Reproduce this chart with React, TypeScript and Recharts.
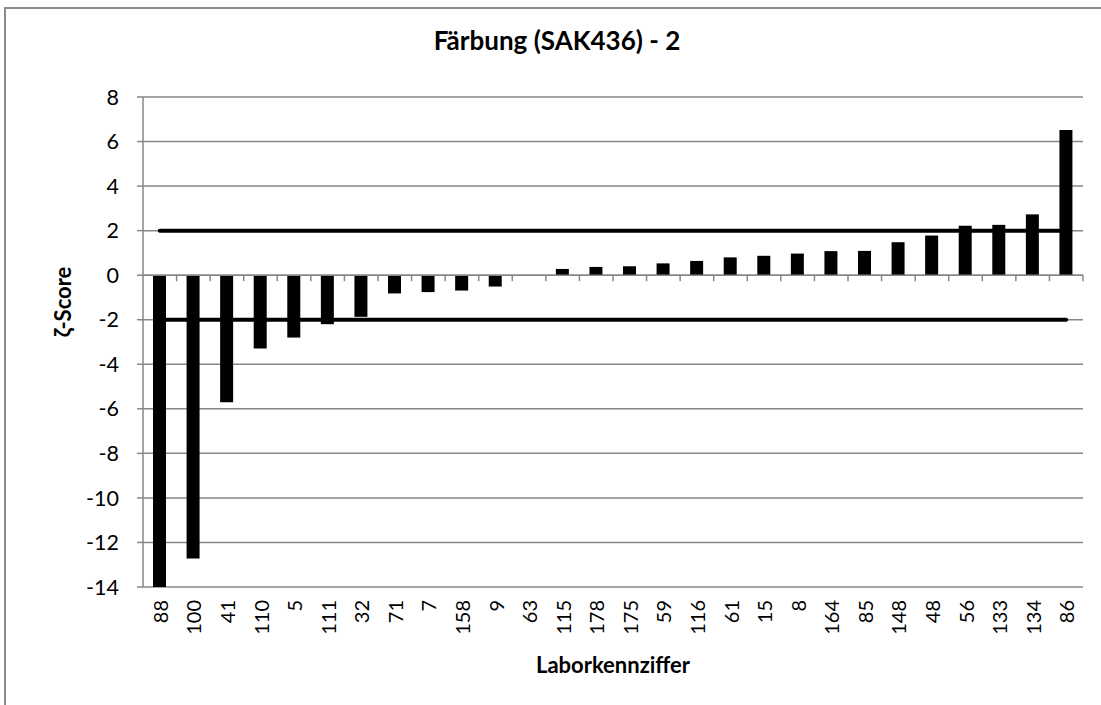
import React from "react";
import {
  ComposedChart,
  Bar,
  Line,
  XAxis,
  YAxis,
  CartesianGrid,
  ReferenceLine,
  Label,
} from "recharts";

const labs = ["88", "100", "41", "110", "5", "111", "32", "71", "7", "158", "9", "63", "115", "178", "175", "59", "116", "61", "15", "8", "164", "85", "148", "48", "56", "133", "134", "86"];
const zeta = [-14, -12.72, -5.7, -3.29, -2.8, -2.2, -1.87, -0.82, -0.76, -0.69, -0.51, null, 0.28, 0.37, 0.4, 0.53, 0.64, 0.8, 0.87, 0.97, 1.08, 1.09, 1.48, 1.78, 2.22, 2.26, 2.73, 6.52];
const upperLimit = 2;
const lowerLimit = -2;
const yTicks = [-14, -12, -10, -8, -6, -4, -2, 0, 2, 4, 6, 8];

const W = 1101;
const H = 705;
const X_AXIS_H = 118;
const Y_AXIS_W = 143;
const M = { top: 97, right: 18, bottom: 0, left: 0 };
const PLOT_W = W - Y_AXIS_W - M.right;
const PLOT_H = H - M.top - X_AXIS_H;
const BAND = PLOT_W / labs.length;
const Y_MIN = -14;
const Y_MAX = 8;
const ZERO_Y = M.top + (Y_MAX / (Y_MAX - Y_MIN)) * PLOT_H;

const FONT = "Lato, 'Open Sans', sans-serif";
const GRID = "#878787";

const data = labs.map((lab, i) => ({
  lab,
  zeta: zeta[i],
  upper: upperLimit,
  lower: lowerLimit,
}));

// labels rotated 90°, plus Excel-style tick marks between categories on the zero line
const XTick = (props: any) => {
  const { x, payload } = props;
  return (
    <g>
      <line x1={x + BAND / 2} x2={x + BAND / 2} y1={ZERO_Y} y2={ZERO_Y + 6} stroke={GRID} strokeWidth={1.5} />
      <text
        transform={`translate(${x},${M.top + PLOT_H + 13}) rotate(-90)`}
        textAnchor="end"
        dominantBaseline="central"
        fontFamily={FONT}
        fontSize={20}
        fill="#000"
      >
        {payload.value}
      </text>
    </g>
  );
};

const App: React.FC = () => {
  return (
    <div style={{ position: "absolute", left: 0, top: 0, width: W, height: H, background: "#fff", overflow: "hidden" }}>
      <div
        style={{
          position: "absolute",
          left: 4,
          top: 7,
          width: W,
          height: H,
          borderLeft: "2px solid #8c8c8c",
          borderTop: "2px solid #8c8c8c",
        }}
      />
      <div
        style={{
          position: "absolute",
          left: 0,
          width: 1114,
          top: 24,
          textAlign: "center",
          fontFamily: FONT,
          fontWeight: 700,
          fontSize: 26,
        }}
      >
        Färbung (SAK436) - 2
      </div>
      <div style={{ position: "absolute", left: 0, top: 0 }}>
        <ComposedChart width={W} height={H} data={data} margin={M} barSize={13}>
          <CartesianGrid vertical={false} stroke={GRID} strokeWidth={1.5} />
          <XAxis
            dataKey="lab"
            interval={0}
            tickLine={false}
            axisLine={false}
            tick={<XTick />}
            height={X_AXIS_H}
          >
            <Label
              value="Laborkennziffer"
              position="insideBottom"
              offset={32}
              style={{ fontFamily: FONT, fontWeight: 700, fontSize: 22, fill: "#000" }}
            />
          </XAxis>
          <YAxis
            width={Y_AXIS_W}
            domain={[Y_MIN, Y_MAX]}
            ticks={yTicks}
            interval={0}
            allowDataOverflow
            stroke={GRID}
            strokeWidth={1.5}
            tickSize={6}
            tickMargin={18}
            tick={{ fontFamily: FONT, fontSize: 21.5, fill: "#000" }}
          >
            <Label
              content={() => (
                <text
                  transform="translate(62,302) rotate(-90)"
                  textAnchor="middle"
                  dominantBaseline="central"
                  fontFamily={FONT}
                  fontWeight={700}
                  fontSize={22}
                  fill="#000"
                >
                  ζ-Score
                </text>
              )}
            />
          </YAxis>
          <ReferenceLine y={0} stroke={GRID} strokeWidth={1.5} />
          <Bar dataKey="zeta" fill="#000" isAnimationActive={false} />
          <Line dataKey="upper" stroke="#000" strokeWidth={4} strokeLinecap="round" dot={false} activeDot={false} isAnimationActive={false} />
          <Line dataKey="lower" stroke="#000" strokeWidth={4} strokeLinecap="round" dot={false} activeDot={false} isAnimationActive={false} />
        </ComposedChart>
      </div>
    </div>
  );
};

export default App;
